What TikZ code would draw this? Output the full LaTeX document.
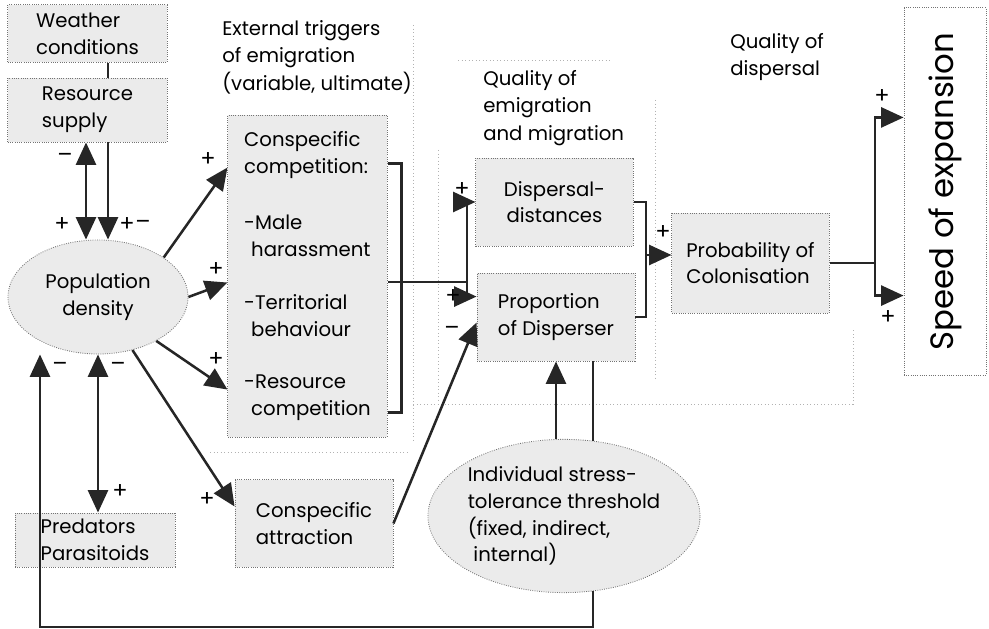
\documentclass[tikz,border=0pt]{standalone}
\usepackage{fontspec}
\setmainfont{Poppins}
\usetikzlibrary{arrows.meta,calc,backgrounds,shapes.geometric}

\begin{document}
\begin{tikzpicture}[x=0.025cm, y=-0.025cm,
	box/.style={draw=black!55, densely dotted, fill=black!8, line width=0.6pt, inner sep=0pt, align=left, font=\fontsize{14}{19}\selectfont},
	oval/.style={box, ellipse},
	head/.style={anchor=north west, inner sep=0pt, align=left, font=\fontsize{14}{19.5}\selectfont},
	link/.style={line width=1.8pt, draw=black!85},
	arr/.style={link, -{Triangle[length=0.56cm,width=0.5cm]}},
	dbl/.style={link, {Triangle[length=0.56cm,width=0.5cm]}-{Triangle[length=0.56cm,width=0.5cm]}},
	sign/.style={inner sep=0pt, font=\fontsize{16}{16}\selectfont},
	hint/.style={draw=black!30, dotted, line width=0.5pt}]
	\useasboundingbox (0,0) rectangle (989,629);

	% faint zone lines
	\draw[hint] (413,25) -- (413,440);
	\draw[hint] (438,150) -- (438,400);
	\draw[hint] (458,60) -- (610,60);
	\draw[hint] (655,100) -- (655,380);
	\draw[hint] (413,404) -- (853,404) -- (853,330);
	\draw[hint] (210,452) -- (407,452);

	% headings
	\node[head] (trig) at (222,20) {External triggers\\of emigration\\(variable, ultimate)};
	\node[head] (qem) at (483,70) {Quality of\\emigration\\and migration};
	\node[head] (qdis) at (730,33) {Quality of\\dispersal};

	% draw nodes
	\node[box, minimum width=3.98cm, minimum height=1.43cm] (weather) at (87.5,33.5) {Weather\\conditions};
	\node[box, minimum width=3.98cm, minimum height=1.6cm] (res) at (87.5,110) {Resource\\supply};
	\node[oval, minimum width=4.5cm, minimum height=2.85cm, align=center] (pop) at (98,297) {Population\\density};
	\node[box, minimum width=3.98cm, minimum height=8.05cm] (comp) at (307.5,276)
		{Conspecific\\competition:\\[21pt]-Male\\\hspace*{5pt}harassment\\[19pt]-Territorial\\\hspace*{5pt}behaviour\\[18pt]-Resource\\\hspace*{5pt}competition};
	\node[box, minimum width=3.95cm, minimum height=2.18cm] (attr) at (314,523.5) {Conspecific\\attraction};
	\node[box, minimum width=4cm, minimum height=1.35cm] (pred) at (95,540) {Predators\\Parasitoids};
	\node[box, minimum width=3.93cm, minimum height=2.2cm, align=center] (dd) at (554.5,202) {Dispersal-\\distances};
	\node[box, minimum width=3.95cm, minimum height=2.2cm] (prop) at (556,317) {Proportion\\of Disperser};
	\node[oval, minimum width=5.8cm, minimum height=3.83cm] (ist) at (564,516)
		{Individual stress-\\tolerance threshold\\(fixed, indirect,\\\hspace*{4pt}internal)};
	\node[box, minimum width=3.93cm, minimum height=2.5cm] (prob) at (750.5,263) {Probability of\\Colonisation};
	\node[box, fill=white, minimum width=2.05cm, minimum height=9.18cm] (speed) at (945,191.5) {};
	\node[rotate=90, font=\fontsize{23}{23}\selectfont] (speedtxt) at (speed.center) {Speed of expansion};

	% split points
	\coordinate (rsL) at (86,0);
	\coordinate (rsR) at (108,0);
	\coordinate (s1) at (467,282);
	\coordinate (s2) at (646,255);
	\coordinate (s3) at (875,263);
	\coordinate (fb) at (40,627);

	% resource and population
	\draw[link] (weather.south -| rsR) -- (res.north -| rsR);
	\draw[dbl] (res.south -| rsL) -- (pop.north -| rsL);
	\draw[arr] (res.south -| rsR) -- (pop.north -| rsR);

	% population to triggers
	\draw[arr] (pop.31) -- ($(comp.north west)+(0,53)$);
	\draw[arr] (pop.east) -- ($(comp.north west)+(0,168)$);
	\draw[arr] (pop.-37) -- ($(comp.north west)+(0,275)$);
	\draw[arr] (pop.-57) -- ($(attr.north west)+(0,27)$);
	\draw[dbl] (pop.south) -- (pred.north -| pop.south);

	% triggers to emigration
	\draw[link] ($(comp.north east)+(0,49)$) -- ++(14,0) -- ++(0,249) -- ++(-14,0);
	\draw[link] (comp.east |- s1) -- (s1);
	\draw[arr] (s1) |- (dd.west);
	\draw[arr] (s1) |- ($(prop.north west)+(0,24)$);
	\draw[arr] (attr.east) -- ($(prop.north west)+(0,50)$);
	\draw[arr] (ist.north -| prop.south) -- (prop.south);

	% emigration to colonisation and speed
	\draw[link] (dd.east) -| (s2) |- (prop.east);
	\draw[arr] (s2) -- (prob.west |- s2);
	\draw[link] (prob.east) -- (s3);
	\draw[arr] (s3) |- ($(speed.north west)+(0,110)$);
	\draw[arr] (s3) |- ($(speed.south west)+(0,-80)$);

	% feedback loop
	\draw[link] (prop.south -| ist.69) -- (ist.69);
	\draw[arr] (ist.-69) |- (fb) -- (fb |- pop.south);

	% signs
	\node[sign] (m1) at (65,158) {–};
	\node[sign] (p1) at (62,225) {+};
	\node[sign] (p2) at (127,225) {+};
	\node[sign] (m2) at (143,225) {–};
	\node[sign] (p3) at (208,160) {+};
	\node[sign] (p4) at (216,270) {+};
	\node[sign] (p5) at (216,360) {+};
	\node[sign] (p6) at (207,500) {+};
	\node[sign] (m3) at (118,367) {–};
	\node[sign] (p7) at (120,492) {+};
	\node[sign] (m4) at (60,367) {–};
	\node[sign] (p8) at (462,190) {+};
	\node[sign] (p9) at (453,297) {+};
	\node[sign] (m5) at (452,331) {–};
	\node[sign] (p10) at (663,233) {+};
	\node[sign] (p11) at (882,97) {+};
	\node[sign] (p12) at (888,318) {+};
\end{tikzpicture}
\end{document}
